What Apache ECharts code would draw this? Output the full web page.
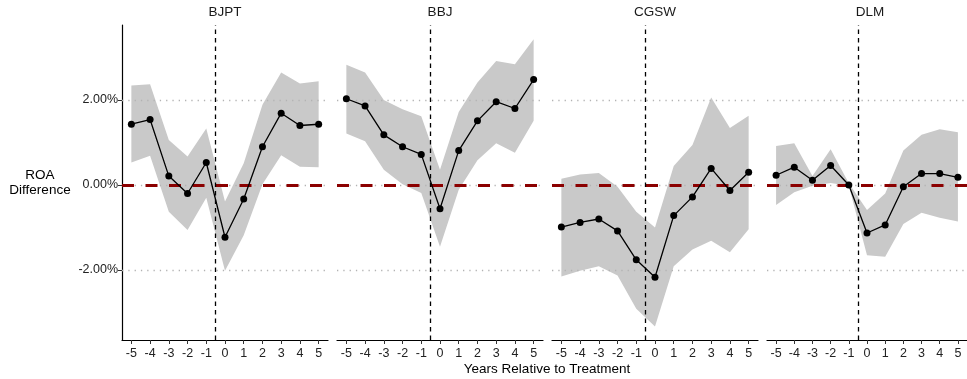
<!DOCTYPE html>
<html>
<head>
<meta charset="utf-8">
<script src="https://cdn.jsdelivr.net/npm/echarts@6/dist/echarts.min.js"></script>
<style>
  html, body { margin: 0; padding: 0; background: #fff; }
  #chart { width: 967px; height: 379px; }
</style>
</head>
<body>
<div id="chart"></div>
<script>
// x categories (years relative to treatment) and facet names
const years = [-5, -4, -3, -2, -1, 0, 1, 2, 3, 4, 5];
const panelNames = ['BJPT', 'BBJ', 'CGSW', 'DLM'];
const yTicks = [-2, 0, 2];

// ROA difference, in percent
const estBJPT = [1.43, 1.54, 0.21, -0.20, 0.53, -1.23, -0.33, 0.90, 1.69, 1.40, 1.43];
const lowBJPT = [0.53, 0.69, -0.63, -1.06, -0.30, -2.02, -1.18, 0.02, 0.70, 0.43, 0.42];
const upBJPT  = [2.34, 2.37, 1.06, 0.67, 1.33, -0.39, 0.51, 1.89, 2.65, 2.39, 2.44];

const estBBJ = [2.03, 1.86, 1.18, 0.90, 0.72, -0.56, 0.81, 1.51, 1.96, 1.80, 2.48];
const lowBBJ = [1.21, 1.03, 0.36, 0.02, -0.19, -1.45, -0.11, 0.58, 0.98, 0.76, 1.51];
const upBBJ  = [2.83, 2.65, 2.00, 1.78, 1.62, 0.36, 1.72, 2.41, 2.92, 2.84, 3.43];

const estCGSW = [-0.99, -0.88, -0.80, -1.08, -1.76, -2.17, -0.72, -0.28, 0.39, -0.13, 0.30];
const lowCGSW = [-2.15, -2.02, -1.91, -2.13, -2.91, -3.33, -1.91, -1.52, -1.31, -1.58, -1.04];
const upCGSW  = [0.15, 0.25, 0.28, -0.04, -0.63, -1.00, 0.45, 0.94, 2.06, 1.34, 1.63];

const estDLM = [0.23, 0.42, 0.11, 0.46, 0.00, -1.13, -0.94, -0.04, 0.27, 0.27, 0.18];
const lowDLM = [-0.47, -0.17, -0.02, 0.05, -0.02, -1.65, -1.69, -0.92, -0.65, -0.77, -0.86];
const upDLM  = [0.92, 0.98, 0.21, 0.84, 0.04, -0.59, -0.20, 0.81, 1.18, 1.31, 1.24];

const treatLine = -0.5;

const panelData = [
  { est: estBJPT, low: lowBJPT, up: upBJPT },
  { est: estBBJ, low: lowBBJ, up: upBBJ },
  { est: estCGSW, low: lowCGSW, up: upCGSW },
  { est: estDLM, low: lowDLM, up: upDLM }
];

// layout
const gridLefts = [122, 337, 552, 767];
const gridWidth = 206;
const gridTop = 25;
const gridHeight = 315;
const font = '"Liberation Sans", Arial, Helvetica, sans-serif';

const chart = echarts.init(document.getElementById('chart'), null, { renderer: 'canvas' });

const grids = [], xAxes = [], yAxes = [], series = [], graphics = [];

panelData.forEach((p, i) => {
  grids.push({ left: gridLefts[i], top: gridTop, width: gridWidth, height: gridHeight });
  xAxes.push({
    type: 'value', gridIndex: i, min: -5.5, max: 5.5,
    axisLine: { show: true, onZero: false, lineStyle: { color: '#000', width: 1.2 } },
    axisTick: { show: true, customValues: years, length: 4, lineStyle: { color: '#333', width: 1 } },
    axisLabel: { customValues: years, margin: 7, fontSize: 12.5, color: '#222', fontFamily: font },
    splitLine: { show: false }
  });
  yAxes.push({
    type: 'value', gridIndex: i, min: -3.647, max: 3.765,
    axisLine: { show: i === 0, onZero: false, lineStyle: { color: '#000', width: 1.2 } },
    axisTick: { show: i === 0, customValues: yTicks, length: 4, lineStyle: { color: '#333' } },
    axisLabel: {
      show: i === 0, customValues: yTicks, margin: 4, fontSize: 12.5, color: '#222', fontFamily: font,
      formatter: v => v.toFixed(2) + '%'
    },
    splitLine: { show: false }
  });

  // confidence band
  series.push({
    type: 'custom', xAxisIndex: i, yAxisIndex: i, z: 1, silent: true,
    data: years.map((x, k) => [x, p.low[k], p.up[k]]),
    renderItem: (params, api) => {
      if (params.dataIndex !== 0) return null;
      const pts = [];
      years.forEach((x, k) => pts.push(api.coord([x, p.up[k]])));
      for (let k = years.length - 1; k >= 0; k--) pts.push(api.coord([years[k], p.low[k]]));
      return { type: 'polygon', shape: { points: pts }, style: { fill: '#c9c9c9' } };
    },
    markLine: {
      silent: true, symbol: 'none', z: 3, animation: false,
      label: { show: false },
      data: [
        ...yTicks.map(v => ({ yAxis: v, lineStyle: { color: '#b3b3b3', width: 1.3, type: [1.3, 5] } })),
        { yAxis: 0, lineStyle: { color: '#8b0000', width: 3.2, type: [12, 11.5] } },
        { xAxis: treatLine, lineStyle: { color: '#000', width: 1.3, type: [4.5, 4] } }
      ]
    }
  });

  // point estimates
  series.push({
    type: 'line', xAxisIndex: i, yAxisIndex: i, z: 10,
    data: years.map((x, k) => [x, p.est[k]]),
    symbol: 'circle', symbolSize: 7, showSymbol: true,
    itemStyle: { color: '#000' },
    lineStyle: { color: '#000', width: 1.3 },
    animation: false
  });

  graphics.push({
    type: 'text', x: gridLefts[i] + gridWidth / 2, y: 12,
    style: { text: panelNames[i], fill: '#1a1a1a', font: '13.5px ' + font, textAlign: 'center', textVerticalAlign: 'middle' }
  });
});

graphics.push({
  type: 'text', x: 40, y: 183,
  style: { text: 'ROA\nDifference', fill: '#000', font: '13.5px ' + font, textAlign: 'center', textVerticalAlign: 'middle', lineHeight: 15 }
});
graphics.push({
  type: 'text', x: 547, y: 369,
  style: { text: 'Years Relative to Treatment', fill: '#000', font: '13.5px ' + font, textAlign: 'center', textVerticalAlign: 'middle' }
});

chart.setOption({
  backgroundColor: '#fff',
  animation: false,
  grid: grids,
  xAxis: xAxes,
  yAxis: yAxes,
  series: series,
  graphic: graphics
});
</script>
</body>
</html>
